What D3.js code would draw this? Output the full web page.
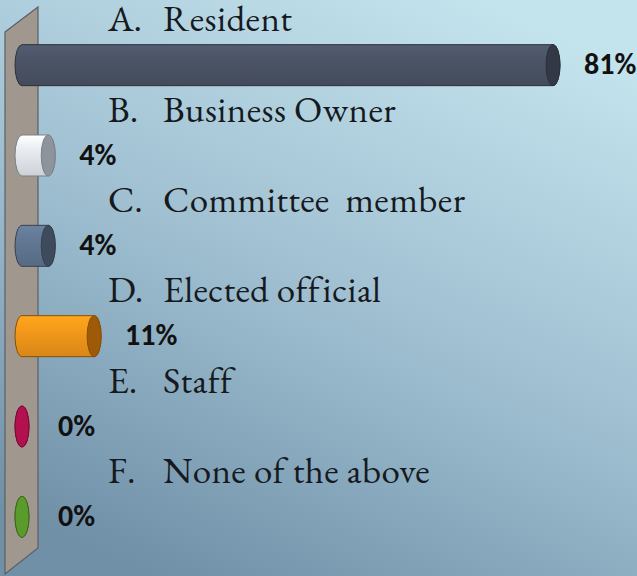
<!DOCTYPE html>
<html lang="en">
<head>
  <meta charset="UTF-8" />
  <title>Respondent type</title>
  <script src="https://d3js.org/d3.v7.min.js"></script>
  <style>
    body { margin: 0; padding: 0; overflow: hidden; }
    svg { display: block; }
  </style>
</head>
<body>
  <svg id="chart" width="637" height="576"></svg>

  <script>
    // data
    const letters = ["A.", "B.", "C.", "D.", "E.", "F."];
    const answers = ["Resident", "Business Owner", "Committee\u00a0 member", "Elected official", "Staff", "None of the above"];
    const percents = [81, 4, 4, 11, 0, 0];
    const bodyColors = ["#4c5567", "#e9edf1", "#627894", "#f4991a", "#b3104f", "#5b9a2c"];
    const capColors = ["#323845", "#8d949c", "#3e4b5c", "#9e5a06", "#8a0c3c", "#447820"];

    const W = 637, H = 576;
    const svg = d3.select("#chart");
    const defs = svg.append("defs");

    // background
    const bg = defs.append("linearGradient").attr("id", "bg")
      .attr("x1", 0.75).attr("y1", 0).attr("x2", 0.25).attr("y2", 1);
    bg.append("stop").attr("offset", 0).attr("stop-color", "#c3e3ed");
    bg.append("stop").attr("offset", 0.5).attr("stop-color", "#a0c0d2");
    bg.append("stop").attr("offset", 1).attr("stop-color", "#7090a8");
    svg.append("rect").attr("width", W).attr("height", H).attr("fill", "url(#bg)");

    // side wall
    svg.append("path")
      .attr("d", "M5,32 L38,7 L38,548 L5,574 Z")
      .attr("fill", "#a0988f")
      .attr("stroke", "#5b5f66")
      .attr("stroke-width", 1.2);

    const x = d3.scaleLinear().domain([0, 81]).range([22, 553]);
    const y = d3.scaleBand().domain(letters).range([20, 562]).paddingInner(0);
    const barH = 41, rx = 7;

    // shading per bar
    bodyColors.forEach((c, i) => {
      const g = defs.append("linearGradient").attr("id", "body" + i)
        .attr("x1", 0).attr("y1", 0).attr("x2", 0).attr("y2", 1);
      g.append("stop").attr("offset", 0).attr("stop-color", d3.color(c).brighter(0.25));
      g.append("stop").attr("offset", 0.35).attr("stop-color", c);
      g.append("stop").attr("offset", 1).attr("stop-color", d3.color(c).darker(0.35));
    });

    const rows = svg.selectAll("g.row")
      .data(letters.map((l, i) => ({ l, a: answers[i], p: percents[i], i })))
      .join("g").attr("class", "row");

    const cy = d => y(d.l) + y.bandwidth() * 0.5;
    const serif = "'EB Garamond', Garamond, 'Liberation Serif', 'DejaVu Serif', serif";

    // question text
    rows.append("text")
      .attr("x", 108).attr("y", d => cy(d) - 34)
      .attr("font-family", serif)
      .attr("font-size", 37)
      .attr("fill", "#161a20")
      .text(d => d.l);
    rows.append("text")
      .attr("x", 163).attr("y", d => cy(d) - 34)
      .attr("font-family", serif)
      .attr("font-size", 37)
      .attr("letter-spacing", 0.4)
      .attr("fill", "#161a20")
      .text(d => d.a);

    // cylinder body
    rows.append("path")
      .attr("d", d => {
        const x0 = x(0), x1 = x(d.p), t = cy(d) - barH / 2, b = cy(d) + barH / 2;
        return `M${x0},${t} L${x1},${t} A${rx},${barH / 2} 0 0 1 ${x1},${b} L${x0},${b} A${rx},${barH / 2} 0 0 1 ${x0},${t} Z`;
      })
      .attr("fill", d => `url(#body${d.i})`)
      .attr("stroke", d => d3.color(capColors[d.i]).darker(0.4))
      .attr("stroke-width", 1);

    // end cap
    rows.append("ellipse")
      .attr("cx", d => x(d.p)).attr("cy", d => cy(d))
      .attr("rx", rx).attr("ry", barH / 2)
      .attr("fill", d => d.p === 0 ? bodyColors[d.i] : capColors[d.i])
      .attr("stroke", d => d3.color(capColors[d.i]).darker(0.4))
      .attr("stroke-width", 1);

    // percent labels
    rows.append("text")
      .attr("x", d => x(d.p) + (d.p === 0 ? 36 : 31))
      .attr("y", d => cy(d) + 2)
      .attr("dominant-baseline", "middle")
      .attr("font-family", "Carlito, Calibri, 'Liberation Sans', Arial, sans-serif")
      .attr("font-weight", "bold")
      .attr("font-size", 30)
      .attr("fill", "#111")
      .text(d => d.p + "%");
  </script>
</body>
</html>
